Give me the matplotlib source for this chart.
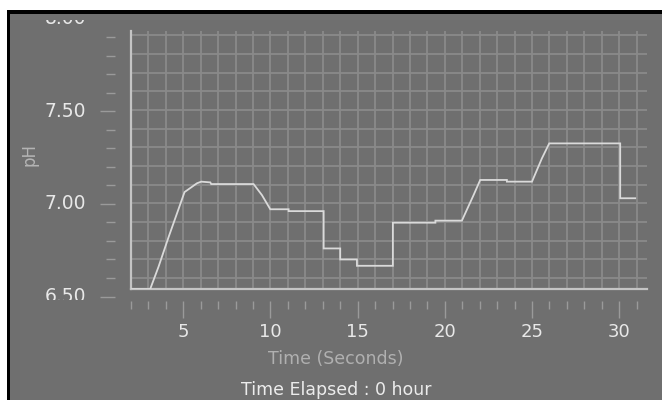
import matplotlib
matplotlib.use("Agg")
import matplotlib.pyplot as plt
from matplotlib.patches import Rectangle
from matplotlib.transforms import Bbox, TransformedBbox, blended_transform_factory
import numpy as np

# ---- data ----
time_s = [2.0, 3.1, 3.58, 4.16, 4.73, 5.07, 5.78, 6.03, 6.55, 6.6, 9.03, 9.51, 9.99,
          11.04, 11.04, 13.05, 13.05, 14.0, 14.0, 14.96, 14.96, 17.02, 17.02, 19.46,
          19.46, 20.98, 21.65, 22.03, 23.56, 23.56, 25.0, 25.57, 25.99, 30.06, 30.06, 30.92]
ph = [6.54, 6.54, 6.66, 6.82, 6.97, 7.06, 7.107, 7.116, 7.112, 7.103, 7.103, 7.044, 6.968,
      6.968, 6.958, 6.958, 6.758, 6.758, 6.699, 6.699, 6.665, 6.665, 6.896, 6.896,
      6.907, 6.907, 7.044, 7.125, 7.125, 7.116, 7.116, 7.241, 7.321, 7.321, 7.027, 7.027]
y_major = [6.5, 7.0, 7.5, 8.0]
y_labels = ["6.50", "7.00", "7.50", "8.00"]
x_major = [5, 10, 15, 20, 25, 30]
x_labels = ["5", "10", "15", "20", "25", "30"]

W, H = 662, 400
BG = "#6f6f6f"
GRID = "#8a8a8a"
AXLINE = "#c4c4c4"
LINE = "#dadada"
TICK = "#9a9a9a"
TXT = "#e8e8e8"

def fx(px):
    return px / W

def fy(py):
    return 1 - py / H

fig = plt.figure(figsize=(6.62, 4.0), dpi=100)
fig.patch.set_facecolor("white")

# gray panel background
fig.add_artist(Rectangle((fx(9), 0), 1 - fx(9), fy(13), transform=fig.transFigure,
                         facecolor=BG, edgecolor="none", zorder=-5))

# main plot axes
L, R, T, B = 131, 646.7, 30.7, 289.3
ax = fig.add_axes([fx(L), fy(B), fx(R - L), (B - T) / H])
ax.set_facecolor(BG)
ax.set_xlim(2.0, 31.58)
ax.set_ylim(6.539, 7.925)
ax.set_xticks(np.arange(3, 32, 1))
ax.set_yticks(np.arange(6.6, 7.95, 0.1))
ax.tick_params(length=0, labelleft=False, labelbottom=False)
ax.grid(True, color=GRID, linewidth=1.3)
ax.set_axisbelow(True)
for s in ["top", "right"]:
    ax.spines[s].set_visible(False)
for s in ["left", "bottom"]:
    ax.spines[s].set_color(AXLINE)
    ax.spines[s].set_linewidth(1.6)
ax.plot(time_s, ph, color=LINE, linewidth=1.3, solid_joinstyle="miter", zorder=3)

# y scale (separate from plot), clipped to the widget area
top8 = 18.5
bot65 = 296.5
ays = fig.add_axes([fx(115), fy(bot65), 0.0001, (bot65 - top8) / H])
ays.set_ylim(6.5, 8.0)
ays.set_facecolor("none")
for s in ays.spines.values():
    s.set_visible(False)
ays.set_xticks([])
ays.set_yticks(y_major[:-1])
ays.set_yticklabels([])
ays.set_yticks(np.arange(6.5, 7.95, 0.1), minor=True)
ays.tick_params(axis="y", which="major", direction="out", length=11, width=1.0, color=TICK)
ays.tick_params(axis="y", which="minor", direction="out", length=6.5, width=1.0, color=TICK)

clip = TransformedBbox(Bbox([[0, fy(300)], [1, fy(20)]]), fig.transFigure)
lab_tr = blended_transform_factory(fig.transFigure, ays.transData)
for v, lab in zip(y_major, y_labels):
    t = ays.text(fx(86), v, lab, transform=lab_tr, ha="right", va="center",
                 color=TXT, fontsize=13.5, clip_on=True)
    t.set_clip_box(clip)

# x scale
axs = fig.add_axes([fx(L), fy(301), fx(R - L), 0.0001])
axs.set_xlim(2.0, 31.58)
axs.set_facecolor("none")
for s in axs.spines.values():
    s.set_visible(False)
axs.set_yticks([])
axs.set_xticks(x_major)
axs.set_xticklabels(x_labels)
axs.set_xticks(np.arange(2, 32, 1), minor=True)
axs.tick_params(axis="x", which="major", direction="out", length=12, width=1.0,
                color=TICK, labelcolor=TXT, labelsize=13, pad=4)
axs.tick_params(axis="x", which="minor", direction="out", length=5.5, width=1.0, color=TICK)

# borders: white margin and black frame lines
fig.add_artist(Rectangle((0, fy(10)), 1, 10 / H, transform=fig.transFigure,
                         facecolor="white", edgecolor="none", zorder=10))
fig.add_artist(Rectangle((0, 0), fx(7), 1, transform=fig.transFigure,
                         facecolor="white", edgecolor="none", zorder=10))
fig.add_artist(Rectangle((fx(7), 0), fx(2.5), fy(10), transform=fig.transFigure,
                         facecolor="black", edgecolor="none", zorder=11))
fig.add_artist(Rectangle((fx(7), fy(13.5)), 1 - fx(7), 3.5 / H, transform=fig.transFigure,
                         facecolor="black", edgecolor="none", zorder=11))

# texts
fig.text(fx(29), fy(155), "pH", rotation=90, ha="center", va="center",
         color="#b4b4b4", fontsize=12)
fig.text(fx(336), fy(359), "Time (Seconds)", ha="center", va="center",
         color="#b0b0b0", fontsize=12.5)
fig.text(fx(336), fy(390), "Time Elapsed : 0 hour", ha="center", va="center",
         color="#ececec", fontsize=12.5)

fig.savefig("out.png", dpi=100, facecolor=fig.get_facecolor())
